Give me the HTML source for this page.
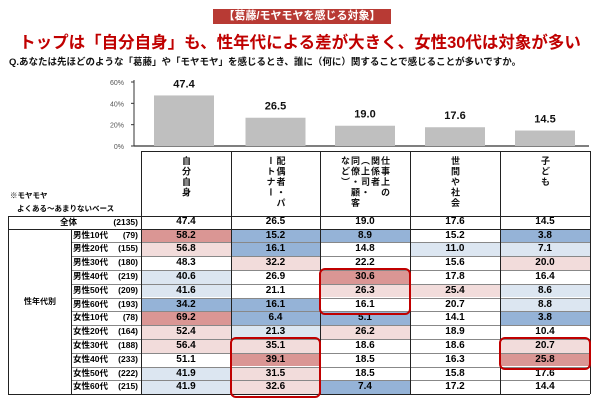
<!DOCTYPE html>
<html><head><meta charset="utf-8">
<style>
body{margin:0;width:600px;height:400px;background:#fff;font-family:"Liberation Sans","Noto Sans CJK JP",sans-serif;position:relative;overflow:hidden}
.a{position:absolute}
.vt{position:absolute;writing-mode:vertical-rl;font-size:9px;font-weight:bold;line-height:10px;letter-spacing:1.5px;color:#111}
</style></head><body>
<div class="a" style="left:213px;top:9px;width:178px;height:15px;background:#b83a34;color:#fff;font-size:11px;font-weight:bold;text-align:center;line-height:15px">【葛藤/モヤモヤを感じる対象】</div>
<div class="a" style="left:0;width:600px;top:33px;text-align:center;color:#c00000;font-size:16.5px;font-weight:bold;line-height:20px">トップは「自分自身」も、性年代による差が大きく、女性30代は対象が多い</div>
<div class="a" style="left:9px;top:57px;font-size:9.5px;font-weight:bold;line-height:12px;color:#111">Q.あなたは先ほどのような「葛藤」や「モヤモヤ」を感じるとき、誰に（何に）関することで感じることが多いですか。</div>
<svg class="a" style="left:0;top:0" width="600" height="400" id="chart"></svg>
<div id="tbl"></div>
<script>
const categories=["自分自身","配偶者・パートナー","仕事上の関係者","世間や社会","子ども"];
const totals=[47.4,26.5,19.0,17.6,14.5];
const yTicks=[0,20,40,60];
const rowLabels=["男性10代","男性20代","男性30代","男性40代","男性50代","男性60代","女性10代","女性20代","女性30代","女性40代","女性50代","女性60代"];
const rowN=["(79)","(155)","(180)","(219)","(209)","(193)","(78)","(164)","(188)","(233)","(222)","(215)"];
const v1=[58.2,56.8,48.3,40.6,41.6,34.2,69.2,52.4,56.4,51.1,41.9,41.9];
const v2=[15.2,16.1,32.2,26.9,21.1,16.1,6.4,21.3,35.1,39.1,31.5,32.6];
const v3=[8.9,14.8,22.2,30.6,26.3,16.1,5.1,26.2,18.6,18.5,18.5,7.4];
const v4=[15.2,11.0,15.6,17.8,25.4,20.7,14.1,18.9,18.6,16.3,15.8,17.2];
const v5=[3.8,7.1,20.0,16.4,8.6,8.8,3.8,10.4,20.7,25.8,17.6,14.4];
const shade=[["R","B","B","","B"],["r","B","","b","b"],["","r","","","r"],["b","","R","",""],["b","","r","r","b"],["B","B","","","b"],["R","B","B","","B"],["r","b","r","",""],["r","r","","","r"],["","R","","","R"],["b","r","","",""],["b","r","B","",""]];
const highlights=[[2,3,5],[1,8,11],[4,8,9]];
const NS="http://www.w3.org/2000/svg";
const svg=document.getElementById('chart');
function mk(t,at,p){const e=document.createElementNS(NS,t);for(const k in at)e.setAttribute(k,at[k]);(p||svg).appendChild(e);return e;}
const y0=146,yScale=64/60;const yS=v=>y0-v*yScale;
const colX=[141,231,320,410,500,590];
mk('line',{x1:134,y1:80,x2:134,y2:y0,stroke:'#333','stroke-width':1});
mk('line',{x1:134,y1:y0,x2:589,y2:y0,stroke:'#333','stroke-width':1.2});
yTicks.forEach(t=>{const e=mk('text',{x:124,y:yS(t)+3,'font-size':7,'text-anchor':'end',fill:'#555'});e.textContent=t+'%';


mk('line',{x1:131,y1:yS(t),x2:134,y2:yS(t),stroke:'#333'});});
totals.forEach((v,i)=>{const cx=(colX[i]+colX[i+1])/2-(i===0?2:0);
const b=mk('rect',{x:cx-30,y:yS(v),width:60,height:y0-yS(v),fill:'#bfbfbf'});


const t=mk('text',{x:cx,y:yS(v)-8,'font-size':11,'font-weight':'bold','text-anchor':'middle',fill:'#111'});t.textContent=v.toFixed(1);

});
const tbl=document.getElementById('tbl');
const colors={R:'#da9694',r:'#f2dcdb',B:'#95b3d7',b:'#dce6f1','':'#fff'};
const hTop=151,allTop=216,rTop=228.5,rh=13.8,bottom=rTop+12*rh;
let h='';
function box(l,t,w,hh,st,txt,nm){h+=`<div class="a" style="left:${l}px;top:${t}px;width:${w}px;height:${hh}px;${st}">${txt}</div>`;}
for(let i=0;i<5;i++)for(let r=0;r<12;r++)box(colX[i],rTop+r*rh,colX[i+1]-colX[i],rh,`background:${colors[shade[r][i]]}`,'','cell-bg');
box(141,hTop,449,1,'background:#222','','table-top-line');
box(8,allTop,582,1,'background:#222','','header-bottom-line');
box(8,rTop,582,1,'background:#222','','total-bottom-line');
box(8,bottom,582,1,'background:#222','','table-bottom-line');
for(let r=1;r<12;r++)box(71,rTop+r*rh,519,1,'background:#888','','row-line');
colX.forEach(x=>box(x,hTop,1,bottom-hTop,'background:#222','','col-line'));
box(8,allTop,1,bottom-allTop,'background:#222','','left-line');
box(71,rTop,1,bottom-rTop,'background:#222','','label-line');
box(9,296,62,12,'font-size:8px;font-weight:bold;text-align:center;line-height:12px','性年代別','group-label');
box(10,190,120,12,'font-size:7.5px;font-weight:bold','※モヤモヤ','note-1');
box(17,203,120,12,'font-size:7.5px;font-weight:bold','よくある～あまりないベース','note-2');
box(60,allTop,30,12.5,'font-size:8.5px;font-weight:bold;line-height:12.5px','全体','total-label');
box(95,allTop,43,12.5,'font-size:8.5px;font-weight:bold;line-height:12.5px;text-align:right','(2135)','total-n');
const vals=[v1,v2,v3,v4,v5];
totals.forEach((v,i)=>box(colX[i],allTop,colX[i+1]-colX[i],12.5,'font-size:10px;font-weight:bold;text-align:center;line-height:12.5px',v.toFixed(1),'total-value'));
rowLabels.forEach((l,r)=>{const t=rTop+r*rh;
box(73,t,45,rh,`font-size:8.5px;font-weight:bold;line-height:${rh}px`,l,'row-label');
box(100,t,38,rh,`font-size:8.5px;font-weight:bold;line-height:${rh}px;text-align:right`,rowN[r],'row-n');
vals.forEach((a,i)=>box(colX[i],t,colX[i+1]-colX[i],rh,`font-size:10px;font-weight:bold;text-align:center;line-height:${rh}px`,a[r].toFixed(1),'cell-value'));});
highlights.forEach(([c,a,b])=>box(colX[c]-1,rTop+a*rh-2,colX[c+1]-colX[c]-2,(b-a+1)*rh+2,'border:2px solid #c00000;border-radius:6px','','highlight-box'));
const hdrHtml=['自分自身','配偶者・パ<br>ートナー','仕事上の<br>関係者<br>（上司・<br>同僚・顧客<br>など）','世間や社会','子ども'];
hdrHtml.forEach((t,i)=>{const lines=t.split('<br>').length;const w=lines*10;const cx=(colX[i]+colX[i+1])/2;
h+=`<div class="vt" style="left:${cx-w/2}px;top:156px;height:58px">${t}</div>`;});
tbl.innerHTML=h;
</script>
</body></html>
